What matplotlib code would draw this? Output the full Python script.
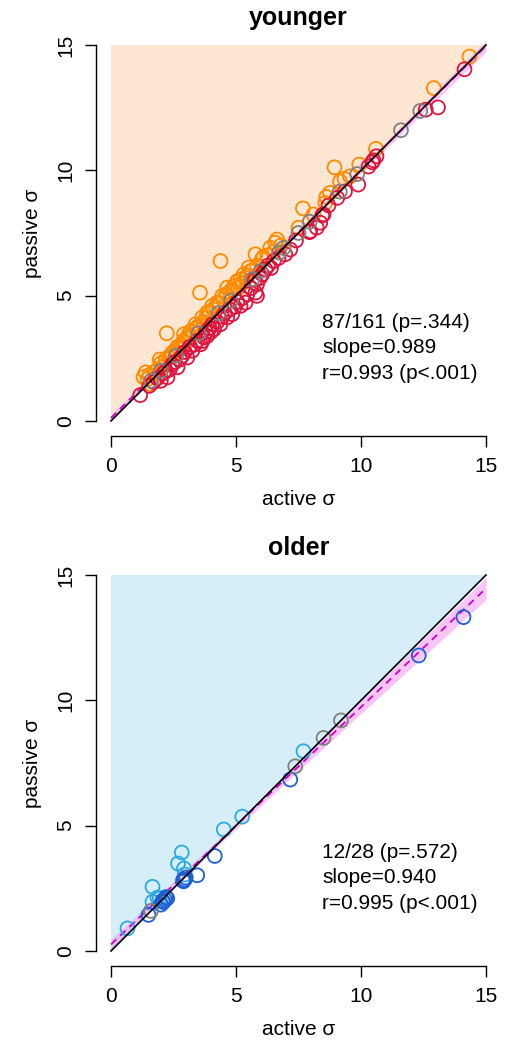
import numpy as np
import matplotlib
matplotlib.use("Agg")
import matplotlib.pyplot as plt

plt.rcParams['font.family'] = ['Liberation Sans', 'DejaVu Sans']

# younger group: active vs passive sigma
young_up_x = [14.34, 12.91, 10.60, 8.94, 9.93, 9.56, 9.34, 9.16, 8.76, 8.61, 8.57, 7.68, 8.10, 7.50,
              6.64, 6.57, 6.37, 5.78, 6.04, 5.51, 5.31, 5.18, 4.38, 3.56, 5.58, 5.40, 5.05, 4.91,
              4.65, 4.45, 4.25, 4.05, 3.85, 3.65, 3.39, 3.19, 2.92, 2.23, 1.39, 1.46, 1.59, 2.12,
              2.19, 2.46, 2.72, 2.99, 3.19, 3.39, 1.30, 1.55, 1.75, 1.85, 2.00, 2.05, 2.30, 2.40,
              2.55, 2.65, 2.80, 2.90, 3.05, 3.10, 3.30, 3.45, 3.55, 3.70, 3.80, 3.95, 4.10, 4.20,
              4.35, 4.50, 4.60, 4.75, 4.85, 5.00, 5.10, 5.25, 5.45, 5.65, 5.85, 6.10, 6.25, 6.50,
              6.80, 2.60, 1.95]
young_up_y = [14.54, 13.28, 10.86, 10.12, 10.23, 9.76, 9.66, 9.56, 9.10, 8.94, 8.70, 8.48, 8.24, 7.71,
              7.24, 7.11, 6.91, 6.65, 6.45, 6.12, 5.85, 5.65, 6.38, 5.12, 5.98, 5.70, 5.58, 5.38,
              5.32, 4.99, 4.72, 4.59, 4.33, 4.13, 3.86, 3.59, 3.46, 3.50, 1.94, 1.67, 1.47, 2.20,
              2.47, 2.73, 2.87, 3.13, 3.39, 3.66, 1.75, 1.85, 1.95, 2.05, 2.30, 2.15, 2.55, 2.60,
              2.80, 2.95, 3.05, 3.20, 3.30, 3.45, 3.55, 3.75, 3.80, 3.95, 4.10, 4.35, 4.45, 4.55,
              4.70, 4.85, 5.05, 5.15, 5.25, 5.40, 5.30, 5.50, 5.80, 6.00, 6.20, 6.55, 6.60, 6.75,
              7.00, 2.70, 2.45]
young_down_x = [14.14, 13.08, 12.59, 10.62, 10.45, 10.50, 9.89, 9.36, 8.70, 8.50, 8.45, 8.23, 7.94,
                8.37, 7.97, 7.17, 6.97, 6.51, 6.28, 6.18, 5.75, 5.84, 5.78, 5.84, 5.18, 5.38, 4.85,
                4.65, 4.38, 4.12, 3.85, 3.65, 1.17, 1.53, 1.99, 2.26, 2.66, 3.05, 3.25, 3.59, 3.72,
                1.70, 1.85, 2.10, 2.35, 2.45, 2.55, 2.75, 2.85, 2.95, 3.15, 3.35, 3.45, 3.80, 3.95,
                4.05, 4.25, 4.45, 4.55, 4.75, 4.95, 5.05, 5.25, 5.45, 5.60, 5.95, 6.05, 6.40, 6.70,
                7.40, 9.05, 10.30, 4.00, 2.20]
young_down_y = [14.03, 12.51, 12.42, 10.56, 10.32, 10.40, 9.43, 9.16, 8.60, 8.24, 8.20, 7.71, 7.53,
                7.91, 7.57, 6.84, 6.65, 6.38, 6.20, 6.05, 5.62, 5.45, 5.12, 4.99, 4.59, 4.72, 4.26,
                4.13, 3.86, 3.66, 3.39, 3.19, 1.03, 1.40, 1.60, 1.74, 2.14, 2.53, 2.80, 3.06, 3.33,
                1.55, 1.70, 1.90, 2.05, 2.25, 2.35, 2.45, 2.60, 2.75, 2.95, 3.05, 3.20, 3.55, 3.70,
                3.85, 3.95, 4.15, 4.30, 4.45, 4.55, 4.75, 4.90, 5.05, 5.30, 5.70, 5.85, 6.10, 6.50,
                7.20, 8.90, 10.15, 3.55, 2.00]
young_tie = [12.37, 11.60, 9.85, 9.15, 7.95, 7.50, 6.90, 6.72, 5.98, 5.65, 4.80, 4.30, 3.50, 2.60,
             2.00, 1.60]

# older group
old_up_x = [0.66, 1.66, 1.66, 1.86, 2.68, 2.83, 2.92, 4.51, 5.25, 7.70, 1.95, 2.95]
old_up_y = [0.90, 1.96, 2.56, 2.13, 3.49, 3.93, 3.29, 4.85, 5.36, 7.97, 2.10, 3.05]
old_down_x = [1.50, 2.06, 2.20, 2.88, 2.99, 3.45, 4.15, 7.17, 12.31, 14.10, 2.10, 2.00, 2.15, 2.25,
              2.95, 2.90]
old_down_y = [1.44, 2.00, 2.15, 2.82, 2.93, 3.02, 3.79, 6.84, 11.79, 13.32, 1.95, 1.85, 2.05, 2.10,
              2.85, 2.78]
old_tie = [1.60, 7.37, 8.50, 9.20]

young_stats = ["87/161 (p=.344)", "slope=0.989", "r=0.993 (p<.001)"]
old_stats = ["12/28 (p=.572)", "slope=0.940", "r=0.995 (p<.001)"]


def panel(ax, title, upx, upy, dnx, dny, tie, cols, shade, stats):
    # shaded region above the identity line
    ax.fill([0, 0, 15], [0, 15, 15], color=shade, lw=0, zorder=0)

    x = np.array(upx + dnx + tie)
    y = np.array(upy + dny + tie)
    b, a = np.polyfit(x, y, 1)
    n = len(x)
    res = y - (a + b * x)
    s = np.sqrt(np.sum(res ** 2) / (n - 2))
    sxx = np.sum((x - x.mean()) ** 2)
    xs = np.linspace(0, 15, 100)
    fit = a + b * xs
    se = s * np.sqrt(1.0 / n + (xs - x.mean()) ** 2 / sxx)
    ax.fill_between(xs, fit - 2.03 * se, fit + 2.03 * se, color='#EE82EE', alpha=0.45, lw=0, zorder=1)
    ax.plot(xs, fit, color='#CC00CC', lw=1.3, ls=(0, (4, 3)), zorder=2)

    ax.scatter(upx, upy, s=100, facecolors='none', edgecolors=cols[0], linewidths=1.3, zorder=3)
    ax.scatter(dnx, dny, s=100, facecolors='none', edgecolors=cols[1], linewidths=1.3, zorder=3)
    ax.scatter(tie, tie, s=100, facecolors='none', edgecolors='#808080', linewidths=1.3, zorder=3)

    ax.plot([0, 15], [0, 15], color='black', lw=1.2, zorder=4)

    ax.set_xlim(-0.6, 15.6)
    ax.set_ylim(-0.6, 15.6)
    ax.set_xticks([0, 5, 10, 15])
    ax.set_yticks([0, 5, 10, 15])
    for sp in ['top', 'right']:
        ax.spines[sp].set_visible(False)
    for sp in ['left', 'bottom']:
        ax.spines[sp].set_bounds(0, 15)
        ax.spines[sp].set_linewidth(1)
    ax.tick_params(direction='out', length=8, width=1, labelsize=15)
    ax.tick_params(axis='x', pad=7)
    ax.tick_params(axis='y', pad=7)
    for lab in ax.get_yticklabels():
        lab.set_rotation(90)
        lab.set_va('center')
    ax.set_xlabel('active σ', fontsize=15, labelpad=10)
    ax.set_ylabel('passive σ', fontsize=15, labelpad=10)
    ax.set_title(title, fontsize=18, fontweight='bold', pad=3)

    for i, t in enumerate(stats):
        ax.text(8.45, 3.94 - 1.02 * i, t, fontsize=15, va='center', ha='left')


fig = plt.figure(figsize=(5.12, 10.44), dpi=100)
ax1 = fig.add_axes([0.1875, 0.5824, 0.7910, 0.3889])
ax2 = fig.add_axes([0.1875, 0.0747, 0.7910, 0.3889])

panel(ax1, 'younger', young_up_x, young_up_y, young_down_x, young_down_y, young_tie,
      ['#FF8C00', '#E0143C'], '#FDE6D2', young_stats)
panel(ax2, 'older', old_up_x, old_up_y, old_down_x, old_down_y, old_tie,
      ['#2BAAE2', '#1F5FD6'], '#D6EEF8', old_stats)

fig.savefig('out.png', dpi=100)
